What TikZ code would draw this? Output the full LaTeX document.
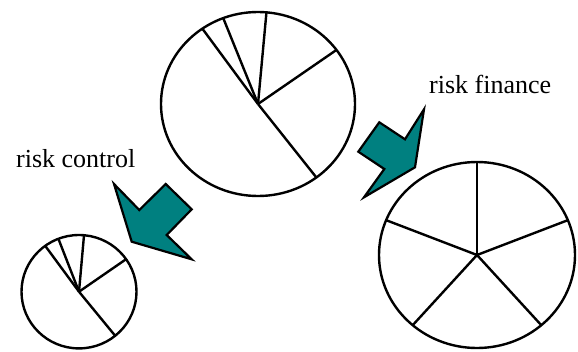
\documentclass[tikz,border=0pt]{standalone}
\usepackage{fontspec}
\setmainfont{Liberation Serif}
\definecolor{riskteal}{RGB}{0,128,128}

\begin{document}
\begin{tikzpicture}[x=1pt,y=1pt,line width=2.4pt,
                    pie/.style={draw=black,fill=white},
                    bentarrow/.style={draw=black,fill=riskteal,line width=2.2pt},
                    caption/.style={anchor=base west,inner sep=0pt,font=\fontsize{26}{30}\selectfont}]
    \useasboundingbox (0,0) rectangle (578,-351);
    \coordinate (bigpie) at (258,-104);
    \coordinate (controlpie) at (79,-291.7);
    \coordinate (financepie) at (477,-255);

    % pies
    \draw [pie] (bigpie) ellipse [x radius=97,y radius=92];
    \foreach \a in {125,111,85,36,-53}
        \draw (bigpie) -- ++({97*cos(\a)},{92*sin(\a)});
    \draw [pie] (controlpie) ellipse [x radius=57.5,y radius=56.7];
    \foreach \a in {126,111,85,35,-51}
        \draw (controlpie) -- ++({57.5*cos(\a)},{56.7*sin(\a)});
    \draw [pie] (financepie) ellipse [x radius=98,y radius=93];
    \foreach \a in {90,22,-49,-131,158}
        \draw (financepie) -- ++({98*cos(\a)},{93*sin(\a)});

    % arrows
    \draw [bentarrow] (114,-184) -- (139.3,-210) -- (165.7,-184) -- (191.7,-209.3)
                      -- (166.7,-235) -- (191.7,-259.3) -- (131.7,-241.7) -- cycle;
    \draw [bentarrow] (424,-109.3) -- (415,-167.3) -- (364,-197.3) -- (384.3,-169)
                      -- (358.3,-151.7) -- (379.3,-122.3) -- (405,-139.3) -- cycle;

    \node (control) at (15,-167.3) [caption] {risk control};
    \node (finance) at (428,-93.3) [caption] {risk finance};
\end{tikzpicture}
\end{document}
